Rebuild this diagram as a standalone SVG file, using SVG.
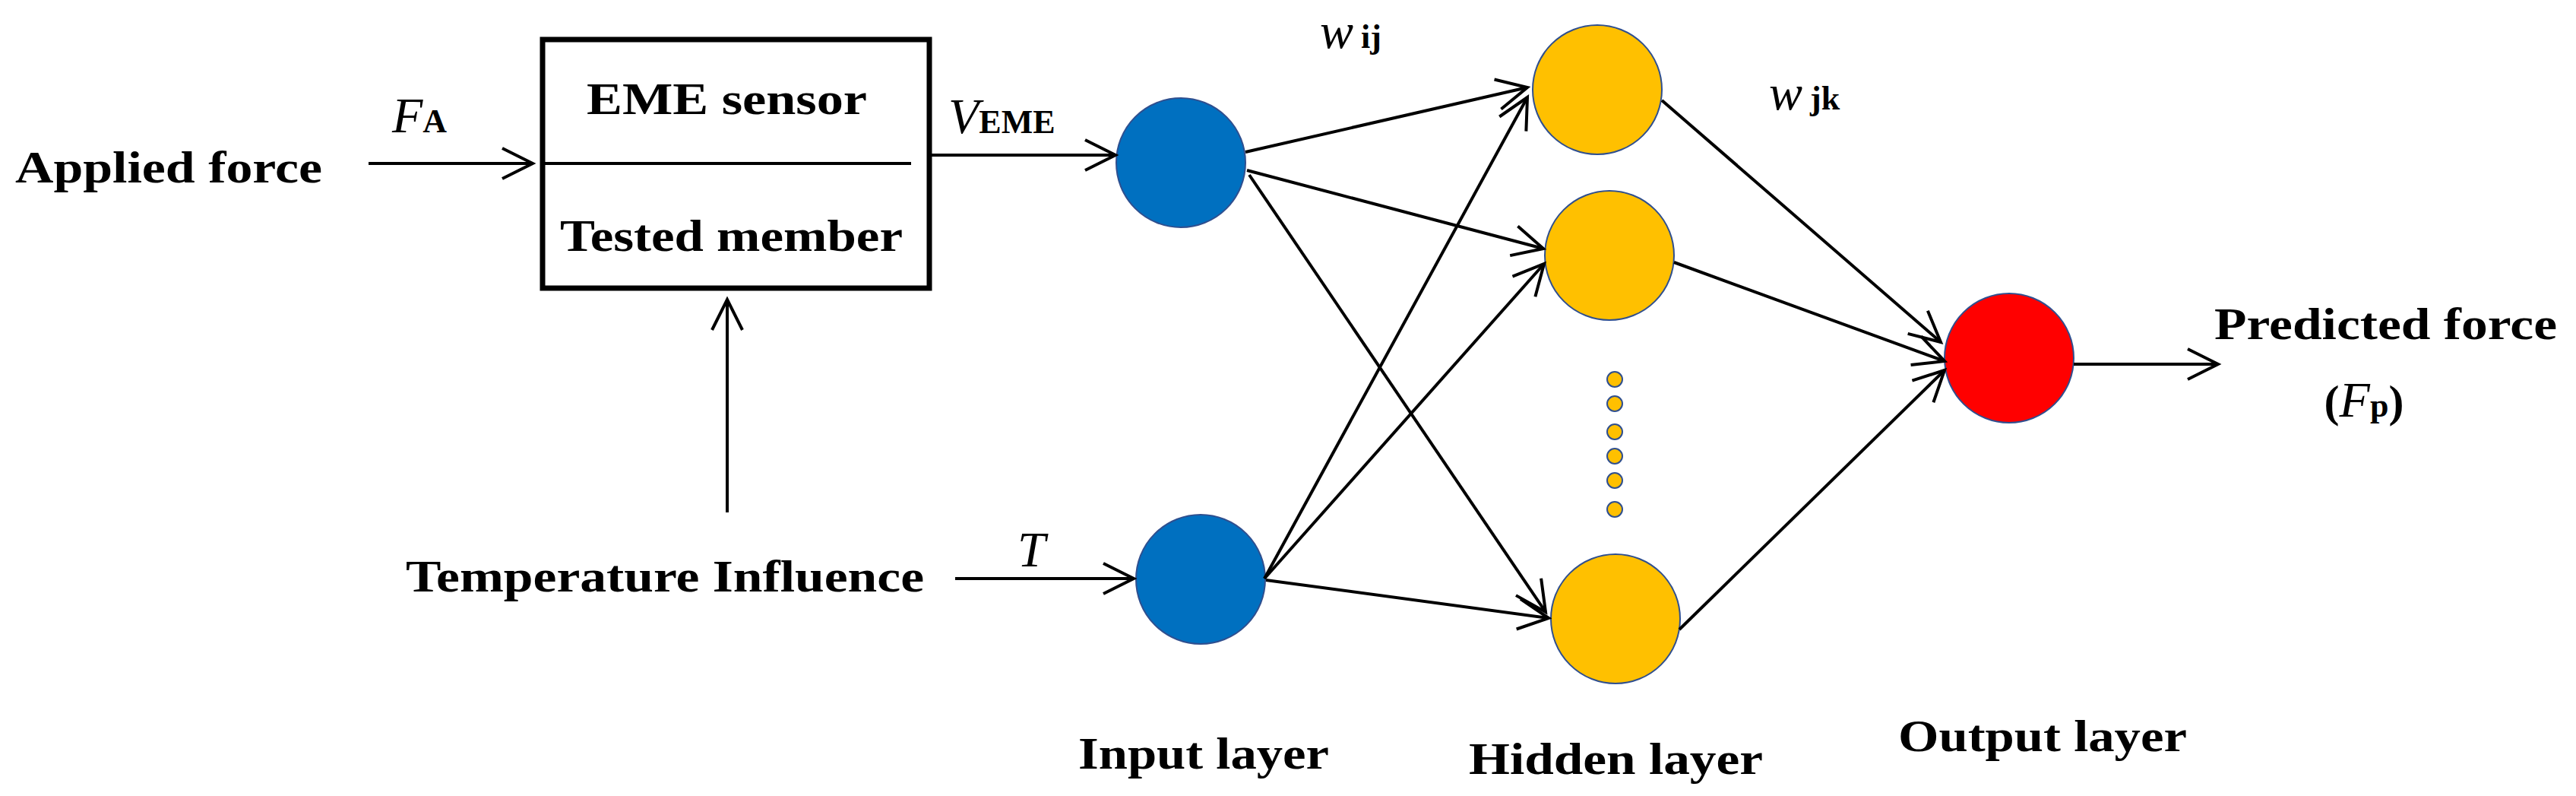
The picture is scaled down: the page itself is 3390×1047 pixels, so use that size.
<svg xmlns="http://www.w3.org/2000/svg" width="3390" height="1047" viewBox="0 0 3390 1047">
<style>
.t{font-family:"Liberation Serif",serif;font-weight:bold;fill:#000}
.i{font-family:"Liberation Serif",serif;font-style:italic;fill:#000}
.c{stroke:#000;stroke-width:4;fill:none}
.n{stroke:#2f4f8f;stroke-width:2}
</style>
<defs>
<marker id="a" markerUnits="userSpaceOnUse" markerWidth="60" markerHeight="60" refX="42" refY="22" orient="auto">
<polyline points="2,2 42,22 2,42" fill="none" stroke="#000" stroke-width="4"/>
</marker>
</defs>
<rect width="3390" height="1047" fill="#fff"/>
<g id="applied"><text class="t" x="20" y="240" font-size="60" textLength="404" lengthAdjust="spacingAndGlyphs">Applied force</text></g>
<g id="box">
<rect x="714" y="52" width="509" height="327" fill="none" stroke="#000" stroke-width="7"/>
<line x1="717" y1="215" x2="1199" y2="215" stroke="#000" stroke-width="4"/>
<text class="t" x="772" y="150" font-size="60" textLength="369" lengthAdjust="spacingAndGlyphs">EME sensor</text>
<text class="t" x="737" y="330" font-size="60" textLength="451" lengthAdjust="spacingAndGlyphs">Tested member</text>
</g>
<g id="temp"><text class="t" x="534" y="778" font-size="60" textLength="682" lengthAdjust="spacingAndGlyphs">Temperature Influence</text></g>
<g id="in1"><circle cx="1554" cy="214" r="85" fill="#0070c0" class="n"/></g>
<g id="in2"><circle cx="1580" cy="762" r="85" fill="#0070c0" class="n"/></g>
<g id="h1"><circle cx="2102" cy="118" r="85" fill="#ffc000" class="n"/></g>
<g id="h2"><circle cx="2118" cy="336" r="85" fill="#ffc000" class="n"/></g>
<g id="h3"><circle cx="2126" cy="814" r="85" fill="#ffc000" class="n"/></g>
<g id="dots" fill="#ffc000" class="n">
<circle cx="2125" cy="499" r="10"/><circle cx="2125" cy="531" r="10"/><circle cx="2125" cy="568" r="10"/>
<circle cx="2125" cy="600" r="10"/><circle cx="2125" cy="632" r="10"/><circle cx="2125" cy="670" r="10"/>
</g>
<g id="out"><circle cx="2644" cy="471" r="85" fill="#ff0000" class="n"/></g>
<g id="labels">
<text class="i" x="516" y="174" font-size="66">F<tspan class="t" font-style="normal" font-size="44">A</tspan></text>
<text class="i" x="1248" y="175" font-size="66">V<tspan class="t" font-style="normal" font-size="44">EME</tspan></text>
<text class="i" x="1339" y="745" font-size="66">T</text>
<text class="i" x="1737" y="63" font-size="66">w<tspan class="t" font-style="normal" font-size="44" dx="10">ij</tspan></text>
<text class="i" x="2328" y="144" font-size="66">w<tspan class="t" font-style="normal" font-size="44" dx="10">jk</tspan></text>
<text class="t" x="2914" y="446" font-size="60" textLength="451" lengthAdjust="spacingAndGlyphs">Predicted force</text>
<text x="3111" y="548" font-size="60" text-anchor="middle" class="t">(<tspan class="i" font-weight="normal" font-size="66">F</tspan><tspan font-size="44">p</tspan>)</text>
<text class="t" x="1419" y="1011" font-size="60" textLength="330" lengthAdjust="spacingAndGlyphs">Input layer</text>
<text class="t" x="1933" y="1018" font-size="60" textLength="387" lengthAdjust="spacingAndGlyphs">Hidden layer</text>
<text class="t" x="2498" y="988" font-size="60" textLength="380" lengthAdjust="spacingAndGlyphs">Output layer</text>
</g>
<g id="connectors" class="c" marker-end="url(#a)">
<line x1="485" y1="215" x2="701" y2="215"/>
<line x1="1223" y1="204" x2="1468" y2="204"/>
<line x1="957" y1="674" x2="957" y2="394"/>
<line x1="1257" y1="761" x2="1492" y2="761"/>
<line x1="1639" y1="200" x2="2010" y2="115"/>
<line x1="1641" y1="224" x2="2031" y2="327"/>
<line x1="1644" y1="230" x2="2034" y2="805"/>
<line x1="1664" y1="761" x2="2010" y2="128"/>
<line x1="1664" y1="761" x2="2032" y2="347"/>
<line x1="1666" y1="763" x2="2038" y2="813"/>
<line x1="2187" y1="132" x2="2554" y2="450"/>
<line x1="2203" y1="345" x2="2559" y2="475"/>
<line x1="2210" y1="828" x2="2559" y2="487"/>
<line x1="2729" y1="479" x2="2919" y2="479"/>
</g>
</svg>
